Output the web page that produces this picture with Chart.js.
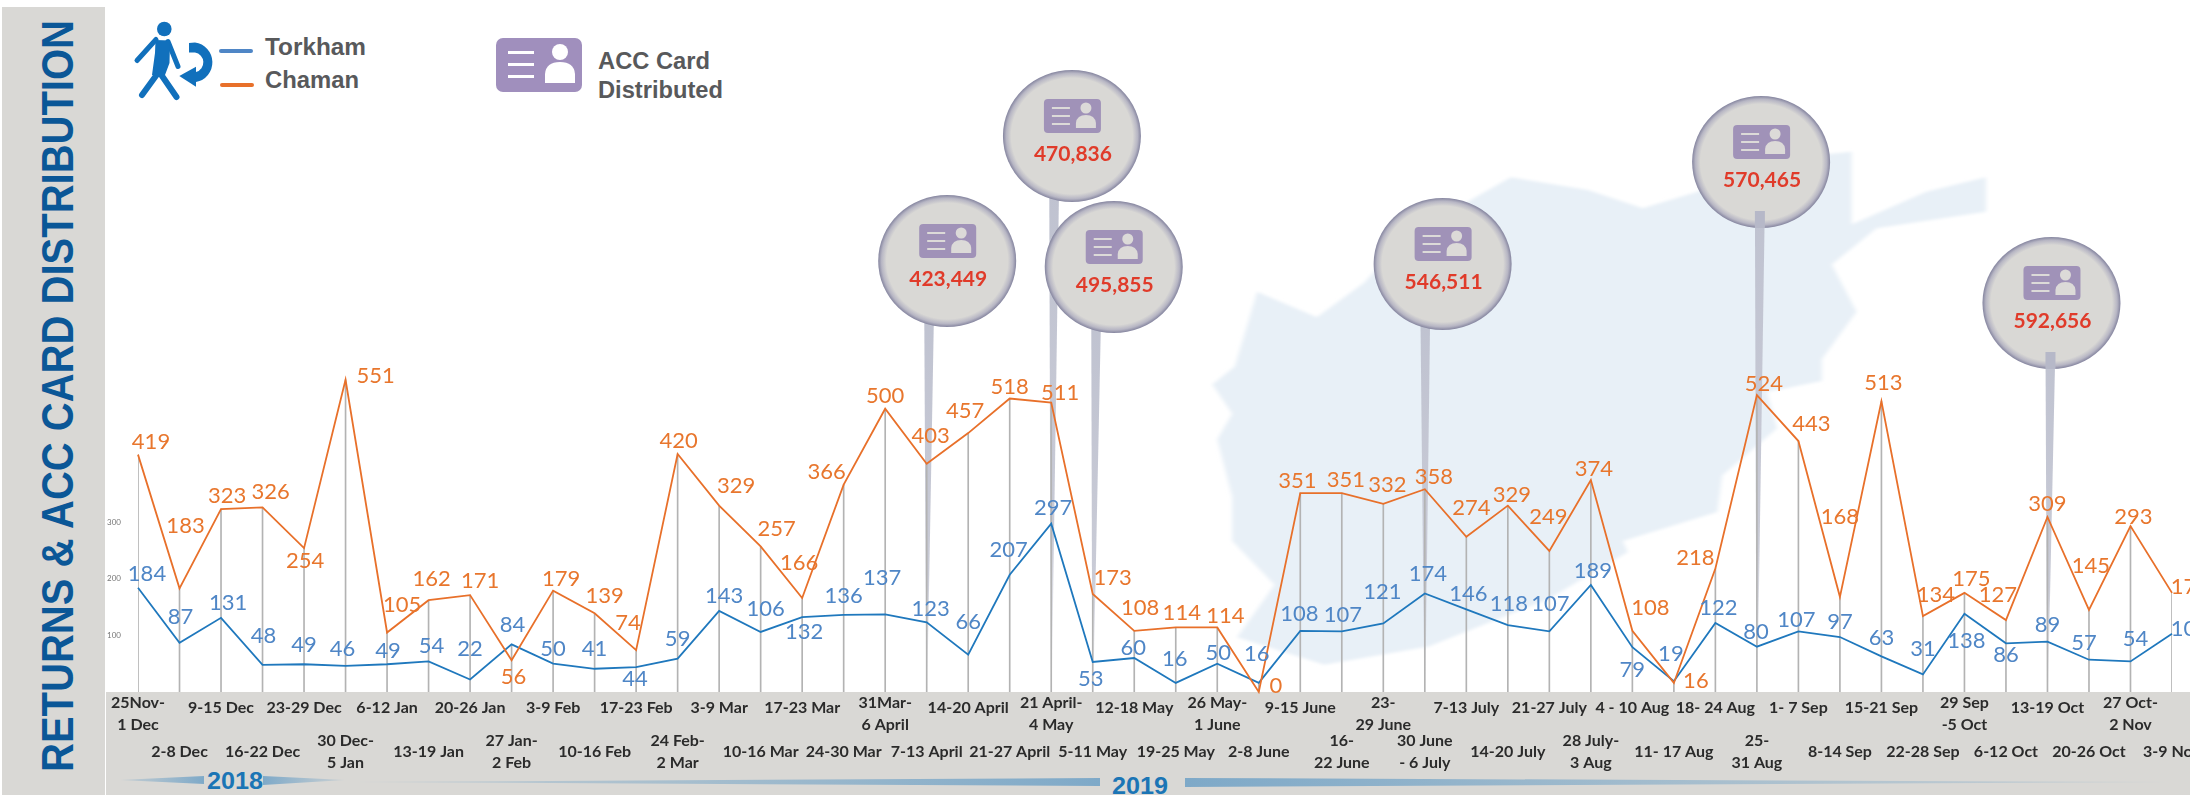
<!DOCTYPE html>
<html>
<head>
<meta charset="utf-8">
<script src="https://cdn.jsdelivr.net/npm/chart.js@4/dist/chart.umd.min.js"></script>
<style>
    body { margin: 0; background: #fff; width: 2190px; height: 795px; overflow: hidden; position: relative; }
    #backdrop, #chart { position: absolute; left: 0; top: 0; }
</style>
</head>
<body>
<svg id="backdrop" width="2190" height="795" xmlns="http://www.w3.org/2000/svg">
    <defs>
        <filter id="soft"><feGaussianBlur stdDeviation="4"></feGaussianBlur></filter>
        <linearGradient id="fadeLeft"><stop offset="0" stop-color="#7ea9c8" stop-opacity="0.2"></stop><stop offset="1" stop-color="#7ea9c8"></stop></linearGradient>
        <linearGradient id="fadeRight"><stop offset="0" stop-color="#7ea9c8"></stop><stop offset="1" stop-color="#7ea9c8" stop-opacity="0.15"></stop></linearGradient>
    </defs>

    <!-- map behind the chart -->
    <g transform="translate(1180 130) scale(.4975 .3637)">
        <polygon filter="url(#soft)" fill="#e8f0f7" points="155,445 275,515 370,420 450,300 600,180 665,130 820,165 930,215 1040,170 1200,80 1350,60 1350,260 1500,170 1620,130 1620,225 1400,270 1310,370 1360,500 1290,630 1290,690 1180,720 1200,820 1090,950 1080,1050 890,1130 900,1160 740,1290 500,1420 290,1470 115,1395 190,1250 105,1130 105,1010 75,850 105,780 65,700 110,650 130,560"></polygon>
    </g>

    <!-- grey panels -->
    <rect x="2" y="7" width="103" height="788" fill="#d9d8d5"></rect>
    <rect x="106" y="692" width="2084" height="103" fill="#d9d8d5"></rect>
    <text transform="translate(73 772) rotate(-90)" font-family="Liberation Sans" font-weight="bold" font-size="44" fill="#0b5797" textLength="752" lengthAdjust="spacingAndGlyphs">RETURNS &amp; ACC CARD DISTRIBUTION</text>

    <!-- year bars -->
    <polygon points="120,780 204,776 204,784" fill="url(#fadeLeft)"></polygon>
    <polygon points="263,776 345,780 263,785" fill="url(#fadeRight)"></polygon>
    <text x="235" y="789" text-anchor="middle" font-family="Liberation Sans" font-weight="bold" font-size="24" fill="#1b75b5" textLength="56" lengthAdjust="spacingAndGlyphs">2018</text>
    <polygon points="354,782 1100,778 1100,786" fill="url(#fadeLeft)"></polygon>
    <polygon points="1185,778 2172,782 1185,787" fill="url(#fadeRight)"></polygon>
    <text x="1140" y="794" text-anchor="middle" font-family="Liberation Sans" font-weight="bold" font-size="24" fill="#1b75b5" textLength="56" lengthAdjust="spacingAndGlyphs">2019</text>

    <!-- legend -->
    <g fill="#1170bc" stroke="#1170bc" stroke-linecap="round" stroke-linejoin="round">
        <circle cx="164.3" cy="29" r="7.3" stroke="none"></circle>
        <path d="M156 39.5 L137 60.5 M168 41.5 L178 66.5" fill="none" stroke-width="5"></path>
        <path d="M158 73 L142 95 M160 73 L176.5 97" fill="none" stroke-width="6"></path>
        <path d="M155.5 40 L170 40.5 L169.5 63 L165 75 L152 75 L155 53 Z" stroke="none"></path>
        <path d="M189 43 L195 42.5 A20 20 0 0 1 196 82 L196 72 A10 10 0 0 0 195 52.5 L189 52.5 Z" stroke="none"></path>
        <path d="M179.3 76 L196 66.7 L196 86.7 Z" stroke="none"></path>
    </g>
    <rect x="219" y="49" width="34" height="4" rx="2" fill="#4f86c6"></rect>
    <rect x="220" y="83" width="34" height="4" rx="2" fill="#e8702a"></rect>
    <g font-family="Liberation Sans" font-weight="bold" font-size="23" fill="#58595b">
        <text x="265" y="55" textLength="101" lengthAdjust="spacingAndGlyphs">Torkham</text>
        <text x="265" y="88" textLength="94" lengthAdjust="spacingAndGlyphs">Chaman</text>
        <text x="598" y="69" textLength="112" lengthAdjust="spacingAndGlyphs">ACC Card</text>
        <text x="598" y="98" textLength="125" lengthAdjust="spacingAndGlyphs">Distributed</text>
    </g>
    <g>
        <rect x="496" y="38" width="86" height="54" rx="7" fill="#a08fbd"></rect>
        <g fill="#fff">
            <rect x="508" y="51" width="26" height="3"></rect>
            <rect x="508" y="63" width="26" height="3"></rect>
            <rect x="508" y="75" width="26" height="3"></rect>
            <circle cx="560" cy="52" r="8"></circle>
            <path d="M545 83 L545 74 Q546 62 560 62 Q574 62 575 74 L575 83 Z"></path>
        </g>
    </g>
</svg>
<canvas id="chart" width="2190" height="795"></canvas>

<script>
// Returns per week, Nov 2018 - Nov 2019

const weekLabels = [
    ['25Nov-', '1 Dec'], ['2-8 Dec'], ['9-15 Dec'], ['16-22 Dec'], ['23-29 Dec'],
    ['30 Dec-', '5 Jan'], ['6-12 Jan'], ['13-19 Jan'], ['20-26 Jan'], ['27 Jan-', '2 Feb'],
    ['3-9 Feb'], ['10-16 Feb'], ['17-23 Feb'], ['24 Feb-', '2 Mar'], ['3-9 Mar'],
    ['10-16 Mar'], ['17-23 Mar'], ['24-30 Mar'], ['31Mar-', '6 April'], ['7-13 April'],
    ['14-20 April'], ['21-27 April'], ['21 April-', '4 May'], ['5-11 May'], ['12-18 May'],
    ['19-25 May'], ['26 May-', '1 June'], ['2-8 June'], ['9-15 June'], ['16-', '22 June'],
    ['23-', '29 June'], ['30 June', '- 6 July'], ['7-13 July'], ['14-20 July'], ['21-27 July'],
    ['28 July-', '3 Aug'], ['4 - 10 Aug'], ['11- 17 Aug'], ['18- 24 Aug'], ['25-', '31 Aug'],
    ['1- 7 Sep'], ['8-14 Sep'], ['15-21 Sep'], ['22-28 Sep'], ['29 Sep', '-5 Oct'],
    ['6-12 Oct'], ['13-19 Oct'], ['20-26 Oct'], ['27 Oct-', '2 Nov'], ['3-9 Nov']
];

const torkham = [
    184, 87, 131, 48, 49, 46, 49, 54, 22, 84,
    50, 41, 44, 59, 143, 106, 132, 136, 137, 123,
    66, 207, 297, 53, 60, 16, 50, 16, 108, 107,
    121, 174, 146, 118, 107, 189, 79, 19, 122, 80,
    107, 97, 63, 31, 138, 86, 89, 57, 54, 103
];

const chaman = [
    419, 183, 323, 326, 254, 551, 105, 162, 171, 56,
    179, 139, 74, 420, 329, 257, 166, 366, 500, 403,
    457, 518, 511, 173, 108, 114, 114, 0, 351, 351,
    332, 358, 274, 329, 249, 374, 108, 16, 218, 524,
    443, 168, 513, 134, 175, 127, 309, 145, 293, 175
];

// ACC cards distributed so far, shown in the bubbles
const cardWeeks = [19, 22, 23, 31, 39, 46];
const cardTotals = ['423,449', '470,836', '495,855', '546,511', '570,465', '592,656'];

// where each bubble sits: x shift from its week, and its y
const bubbleShift = [20.5, 20.7, 21, 17.8, 4.2, 4];
const bubbleY = [261, 136, 267, 264, 162, 303];
const stemShift = [2.5, 3, 3.5, 0.5, 3, 3];
// these two stems show on top of their bubble
const stemOverBubble = [false, false, false, false, true, true];

// value label placement, [dx, dy] from the point
const torkhamLabelPos = [
    [9,-14], [1,-26], [7,-15], [1,-29], [0,-19], [-3,-17], [1,-13], [3,-16], [0,-31], [1,-20],
    [0,-15], [0,-20], [-1,12], [0,-20], [5,-15], [5,-23], [2,15], [0,-19], [-3,-36], [4,-13],
    [0,-33], [-1,-25], [2,-16], [-2,17], [-1,-10], [-1,-24], [1,-11], [-2,-29], [-1,-17], [1,-16],
    [-1,-32], [3,-20], [2,-15], [1,-21], [1,-27], [2,-14], [0,23], [-3,-27], [3,-15], [-1,-15],
    [-2,-11], [0,-15], [0,-18], [0,-26], [2,27], [0,12], [0,-17], [-5,-17], [5,-23], [18,-5]
];
const chamanLabelPos = [
    [13,-13], [6,-62], [6,-13], [8,-15], [1,13], [30,-4], [15,-28], [3,-21], [10,-14], [2,17],
    [8,-12], [10,-17], [-8,-27], [1,-13], [17,-20], [16,-17], [-3,-35], [-17,-13], [0,-13], [4,-28],
    [-3,-22], [0,-12], [9,-10], [20,-16], [6,-23], [6,-15], [8,-12], [17,-6], [-3,-12], [4,-13],
    [4,-19], [9,-12], [5,-29], [4,-11], [-1,-34], [3,-11], [18,-23], [22,-2], [-20,-11], [7,-11],
    [13,-17], [0,-80], [2,-18], [13,-21], [7,-14], [-8,-25], [0,-13], [2,-44], [3,-9], [18,-6]
];

const dropLines = torkham.map((t, i) => Math.max(t, chaman[i]));

function roundRect(ctx, x, y, w, h, r) {
    ctx.beginPath();
    ctx.roundRect(x, y, w, h, r);
    ctx.fill();
}

function drawCardIcon(ctx, cx, cy) {
    ctx.fillStyle = '#a092b8';
    roundRect(ctx, cx - 28, cy - 17, 57, 34, 4);
    ctx.fillStyle = '#dcdad8';
    [-9, -1, 7].forEach(dy => ctx.fillRect(cx - 20, cy + dy, 18, 2));
    ctx.beginPath();
    ctx.arc(cx + 14, cy - 8, 5.5, 0, Math.PI * 2);
    ctx.fill();
    ctx.beginPath();
    ctx.moveTo(cx + 4, cy + 12);
    ctx.lineTo(cx + 4, cy + 7);
    ctx.quadraticCurveTo(cx + 5, cy - 1, cx + 14, cy - 1);
    ctx.quadraticCurveTo(cx + 23, cy - 1, cx + 24, cy + 7);
    ctx.lineTo(cx + 24, cy + 12);
    ctx.closePath();
    ctx.fill();
}

// grey tapered stems go under the lines, bubbles on top
const bubblePlugin = {
    id: 'bubbles',
    beforeDatasetsDraw(chart) {
        const { ctx, scales } = chart;
        const base = scales.y.getPixelForValue(0);
        cardWeeks.forEach((week, i) => {
            const x = scales.x.getPixelForValue(week);
            const top = bubbleY[i] + 40;
            const grad = ctx.createLinearGradient(0, top, 0, base);
            grad.addColorStop(0, '#bfc2d0');
            grad.addColorStop(0.7, '#c9cbd6');
            grad.addColorStop(1, 'rgba(201,203,214,0)');
            ctx.save();
            ctx.fillStyle = grad;
            ctx.beginPath();
            ctx.moveTo(x + stemShift[i] - 5, top);
            ctx.lineTo(x + stemShift[i] + 5, top);
            ctx.lineTo(x + 0.5, base);
            ctx.lineTo(x - 0.5, base);
            ctx.closePath();
            ctx.fill();
            ctx.restore();
        });
    },
    afterDraw(chart) {
        const { ctx, scales } = chart;
        cardWeeks.forEach((week, i) => {
            const x = scales.x.getPixelForValue(week);
            const cx = x + bubbleShift[i];
            const cy = bubbleY[i];
            ctx.save();
            ctx.translate(cx, cy);
            ctx.scale(69 / 66, 1);
            const grad = ctx.createRadialGradient(0, 0, 58, 0, 0, 66);
            grad.addColorStop(0, '#d9d8d5');
            grad.addColorStop(0.6, '#b7b6c4');
            grad.addColorStop(1, '#85859f');
            ctx.fillStyle = grad;
            ctx.beginPath();
            ctx.arc(0, 0, 66, 0, Math.PI * 2);
            ctx.fill();
            ctx.restore();

            ctx.save();
            if (stemOverBubble[i]) {
                ctx.fillStyle = '#b6b8c8';
                ctx.fillRect(x + stemShift[i] - 5, cy + 49, 10, 17);
            }
            drawCardIcon(ctx, cx, cy - 20);
            ctx.fillStyle = '#e03b2a';
            ctx.font = 'bold 21px Lato';
            ctx.textAlign = 'center';
            ctx.textBaseline = 'middle';
            ctx.fillText(cardTotals[i], cx + 1, cy + 18);
            ctx.restore();
        });
    }
};

// no datalabels plugin here, so the numbers are drawn by hand at each point
const valueLabelPlugin = {
    id: 'valueLabels',
    afterDatasetsDraw(chart) {
        const { ctx } = chart;
        ctx.save();
        ctx.font = '22px Lato';
        ctx.textAlign = 'center';
        ctx.textBaseline = 'middle';
        chart.data.datasets.forEach((ds, d) => {
            if (!ds.labelPos) return;
            const meta = chart.getDatasetMeta(d);
            ctx.fillStyle = ds.labelColor;
            meta.data.forEach((pt, i) => {
                ctx.fillText(ds.data[i], pt.x + ds.labelPos[i][0], pt.y + ds.labelPos[i][1]);
            });
        });
        ctx.restore();
    }
};

// tick text sits on two staggered rows, the short line height gives finer steps
function tickLines(lines, i) {
    const lower = i % 2 === 1;
    const out = [];
    if (lines.length === 1) {
        const skip = lower ? 9 : 1;
        for (let n = 0; n < skip; n++) out.push('');
        out.push(lines[0]);
    } else {
        const skip = lower ? 7 : 0;
        for (let n = 0; n < skip; n++) out.push('');
        out.push(lines[0], '', '', '', lines[1]);
    }
    return out;
}

new Chart(document.getElementById('chart').getContext('2d'), {
    type: 'line',
    data: {
        labels: weekLabels,
        datasets: [
            {
                type: 'bar',
                data: dropLines,
                backgroundColor: '#b3b3b3',
                barThickness: 1,
                order: 3
            },
            {
                label: 'Torkham',
                data: torkham,
                borderColor: '#1f78bd',
                borderWidth: 1.8,
                pointRadius: 0,
                tension: 0,
                clip: false,
                order: 2,
                labelPos: torkhamLabelPos,
                labelColor: '#4f86c6'
            },
            {
                label: 'Chaman',
                data: chaman,
                borderColor: '#e8702a',
                borderWidth: 1.8,
                pointRadius: 0,
                tension: 0,
                clip: false,
                order: 1,
                labelPos: chamanLabelPos,
                labelColor: '#e8762d'
            }
        ]
    },
    options: {
        responsive: false,
        animation: false,
        layout: { padding: { left: 98, right: 18, top: 0, bottom: 0 } },
        plugins: {
            legend: { display: false },
            tooltip: { enabled: false }
        },
        scales: {
            x: {
                offset: false,
                grid: { display: false, drawTicks: false },
                border: { display: false },
                afterFit: scale => {
                    scale.height = 103;
                    // the last label runs off the edge in the original
                    scale.paddingLeft = 0;
                    scale.paddingRight = 0;
                },
                ticks: {
                    autoSkip: false,
                    maxRotation: 0,
                    minRotation: 0,
                    padding: 8,
                    color: '#2b2b2b',
                    font: { family: 'Lato', weight: 'bold', size: 16, lineHeight: '5.5px' },
                    callback(value, i) { return tickLines(weekLabels[i], i); }
                }
            },
            y: {
                min: 0,
                max: 1183,
                grid: { display: false, drawTicks: false },
                border: { display: false },
                afterFit: scale => { scale.width = 40; },
                ticks: {
                    stepSize: 100,
                    padding: 17,
                    color: '#777',
                    font: { family: 'Lato', size: 8 },
                    callback: value => (value > 0 && value <= 300 ? value : '')
                }
            }
        }
    },
    plugins: [bubblePlugin, valueLabelPlugin]
});
</script>
</body>
</html>
